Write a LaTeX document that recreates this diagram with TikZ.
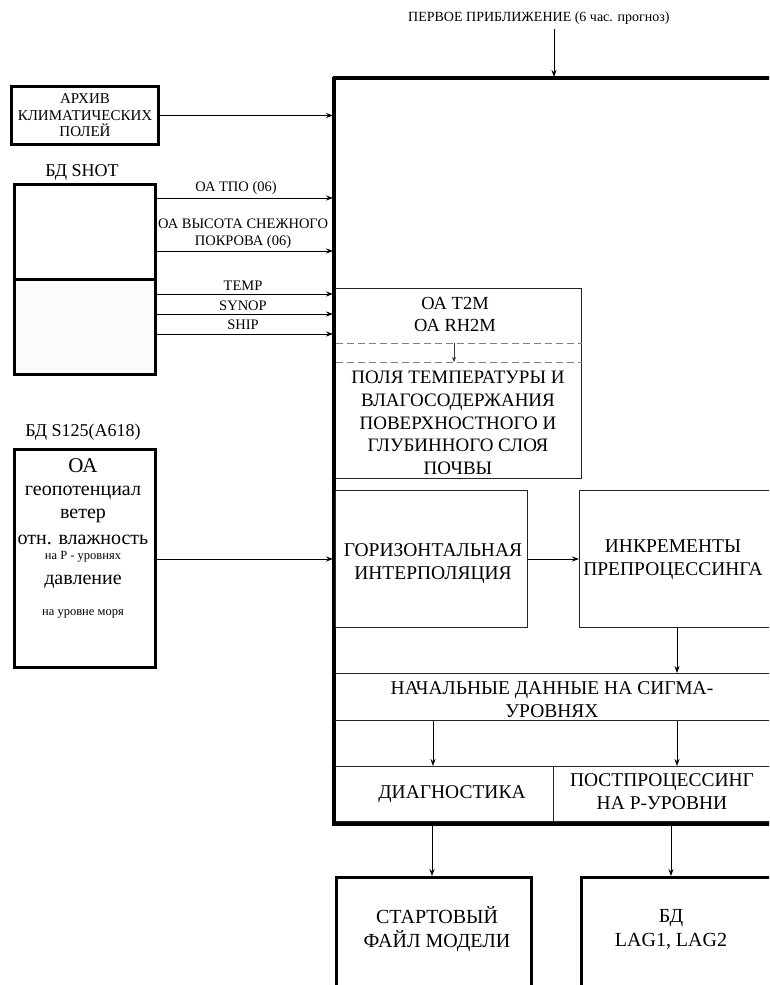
\documentclass[tikz,border=0pt]{standalone}
\usepackage{fontspec}
\setmainfont{Liberation Serif}
\usetikzlibrary{arrows.meta,calc}
\newcommand{\fs}[2]{\fontsize{#1}{#2}\selectfont}
\begin{document}
\begin{tikzpicture}[x=1pt,y=-1pt,
  thickbox/.style={draw=black, line width=3pt, inner sep=0pt, anchor=north west},
  thinbox/.style={draw=black!85, line width=1pt, inner sep=0pt, anchor=north west},
  arr/.style={-{Stealth[length=7pt,width=5pt]}, line width=1pt},
  arrsmall/.style={-{Stealth[length=5pt,width=4pt]}, line width=0.7pt, draw=black!80},
  dashline/.style={draw=gray, line width=0.8pt, dash pattern=on 7pt off 4pt},
  lbl/.style={inner sep=0pt, align=center},
  big/.style={lbl, font=\fs{19.5}{23}},
  mid/.style={lbl, font=\fs{14.5}{17}}]
\useasboundingbox (0,0) rectangle (769,985);
\clip (0,0) rectangle (769,985);
\fill[white] (0,0) rectangle (769,985);

% main frame
\node[thickbox, minimum width=500pt, minimum height=744pt] (main) at (333,77) {};

% top label
\node[lbl, font=\fs{14}{16}, anchor=west] (first) at (408,18) {ПЕРВОЕ ПРИБЛИЖЕНИЕ (6 час. прогноз)};
\coordinate (ctop) at (554,0);
\draw[arr, shorten <=4pt] (first.south -| ctop) -- (main.north -| ctop);

% archive
\node[thickbox, minimum width=147pt, minimum height=58pt, align=center, font=\fs{15}{16.5}] (arch) at (10,85) {АРХИВ\\КЛИМАТИЧЕСКИХ\\ПОЛЕЙ};
\draw[arr] (arch.east) -- (main.west |- arch.east);

% SHOT
\node[lbl, font=\fs{18}{20}] (shotlbl) at (82,172) {БД SHOT};
\node[thickbox, minimum width=141pt, minimum height=95pt] (shottop) at (13,183) {};
\node[thickbox, fill=gray!3, minimum width=141pt, minimum height=95pt] (shotbot) at (13,278) {};

\coordinate (y1) at (0,198);
\coordinate (y2) at (0,251);
\coordinate (y3) at (0,294);
\coordinate (y4) at (0,314);
\coordinate (y5) at (0,334);
\draw[arr] (shottop.east |- y1) -- (main.west |- y1);
\draw[arr] (shottop.east |- y2) -- (main.west |- y2);
\draw[arr] (shotbot.east |- y3) -- (main.west |- y3);
\draw[arr] (shotbot.east |- y4) -- (main.west |- y4);
\draw[arr] (shotbot.east |- y5) -- (main.west |- y5);
\node[mid] (ltpo) at (236,188) {ОА ТПО (06)};
\node[mid] (lsnow) at (243,233.5) {ОА ВЫСОТА СНЕЖНОГО\\ПОКРОВА (06)};
\node[mid] (ltemp) at (243,286) {TEMP};
\node[mid] (lsynop) at (243,306) {SYNOP};
\node[mid] (lship) at (243,325) {SHIP};

% T2M box
\node[thinbox, minimum width=248pt, minimum height=190pt] (t2m) at (333,288) {};
\coordinate (d1) at (336,343);
\coordinate (d2) at (336,362);
\draw[dashline] (d1) -- (t2m.east |- d1);
\draw[dashline] (d2) -- (t2m.east |- d2);
\coordinate (da) at (454,343);
\coordinate (db) at (454,362);
\draw[arrsmall] (da) -- (db);
\node[lbl, font=\fs{18.5}{22}] (t2mtxt) at (455,314) {ОА T2M\\ОА RH2M};
\node[lbl, font=\fs{19}{22.75}] (soil) at (458,423) {ПОЛЯ ТЕМПЕРАТУРЫ И\\ВЛАГОСОДЕРЖАНИЯ\\ПОВЕРХНОСТНОГО И\\ГЛУБИННОГО СЛОЯ\\ПОЧВЫ};

% interpolation & increments
\node[thinbox, minimum width=192pt, minimum height=137pt] (horiz) at (335,490) {};
\node[big] (horiztxt) at (433,564) {ГОРИЗОНТАЛЬНАЯ\\ИНТЕРПОЛЯЦИЯ};
\node[thinbox, minimum width=300pt, minimum height=137pt] (inkr) at (579,490) {};
\node[big] (inkrtxt) at (673,560) {ИНКРЕМЕНТЫ\\ПРЕПРОЦЕССИНГА};
\draw[arr] (horiz.east) -- (inkr.west);

% S125
\node[lbl, font=\fs{18}{20}] (s125lbl) at (83,432) {БД S125(A618)};
\node[thickbox, minimum width=141pt, minimum height=218pt] (s125) at (13,448) {};
\node[lbl, font=\fs{21}{23}] (s1) at (83,466) {ОА};
\node[lbl, font=\fs{20}{22}] (s2) at (83,493) {геопотенциал};
\node[lbl, font=\fs{20}{22}] (s3) at (83,516) {ветер};
\node[lbl, font=\fs{20}{22}] (s4) at (83,540) {отн. влажность};
\node[lbl, font=\fs{12.5}{14}] (s5) at (83,557) {на Р - уровнях};
\node[lbl, font=\fs{20}{22}] (s6) at (83,582) {давление};
\node[lbl, font=\fs{12.5}{14}] (s7) at (83,614) {на уровне моря};
\draw[arr] (s125.east |- horiz.west) -- (main.west |- horiz.west);

% initial data
\node[thinbox, minimum width=500pt, minimum height=47pt] (nach) at (333,673) {};
\node[big] (nachtxt) at (552,700) {НАЧАЛЬНЫЕ ДАННЫЕ НА СИГМА-\\УРОВНЯХ};
\coordinate (colR) at (677,0);
\coordinate (colL) at (433,0);
\draw[arr, line width=0.7pt] (inkr.south -| colR) -- (nach.north -| colR);

% diagnostics / postprocessing
\node[thinbox, minimum width=220pt, minimum height=55pt] (diag) at (333,766) {};
\node[thinbox, minimum width=300pt, minimum height=55pt] (post) at (553,766) {};
\node[big] (diagtxt) at (452,794) {ДИАГНОСТИКА};
\node[big] (posttxt) at (662,792) {ПОСТПРОЦЕССИНГ\\НА Р-УРОВНИ};
\draw[arr] (nach.south -| colL) -- (diag.north -| colL);
\draw[arr, line width=0.7pt] (nach.south -| colR) -- (post.north -| colR);

% redraw main frame border on top
\draw[line width=3pt] (main.north west) -- (main.south west) -- (main.south east);
\draw[line width=3pt] (main.north west) -- (main.north east);

% outputs
\node[thickbox, minimum width=195pt, minimum height=200pt] (start) at (335,876) {};
\node[lbl, font=\fs{20}{24}] (starttxt) at (437,929) {СТАРТОВЫЙ\\ФАЙЛ МОДЕЛИ};
\node[thickbox, minimum width=300pt, minimum height=200pt] (lag) at (580,876) {};
\node[lbl, font=\fs{20}{24}] (lagtxt) at (671,929) {БД\\LAG1, LAG2};
\coordinate (colA) at (432,0);
\coordinate (colB) at (671,0);
\draw[arr] (main.south -| colA) -- (start.north -| colA);
\draw[arr] (main.south -| colB) -- (lag.north -| colB);
\end{tikzpicture}
\end{document}
